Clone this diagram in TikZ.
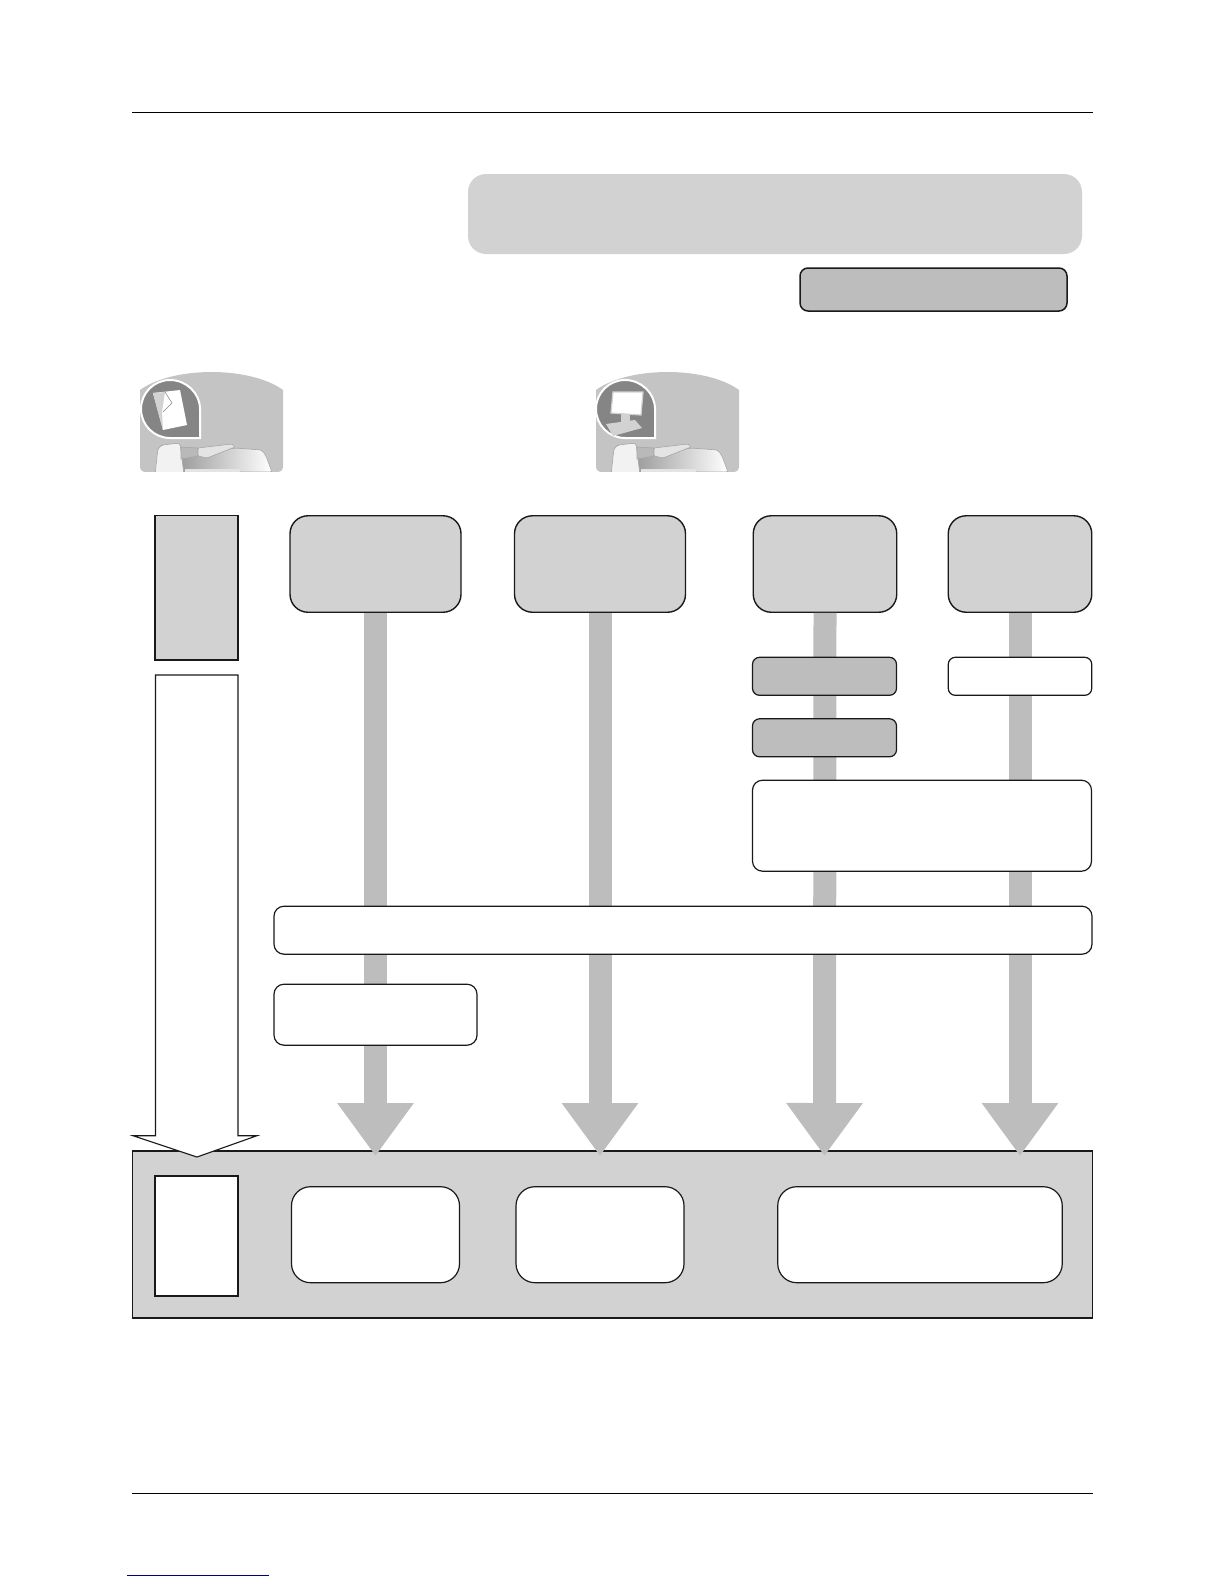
\documentclass[tikz,border=0pt]{standalone}
\usepackage{tikz}
\usetikzlibrary{arrows.meta, calc}
\definecolor{my-light}{HTML}{D2D2D2}
\definecolor{my-mid}{HTML}{BDBDBD}
\definecolor{my-dark}{HTML}{858585}
\tikzset{
    my-box/.style={
        draw=black!90, line width=1.2pt, shape=rectangle, inner sep=0pt
    },
    my-head/.style={
        my-box, fill=my-light, rounded corners=18pt
    },
    my-step/.style={
        my-box, fill=my-mid, rounded corners=7pt
    },
    my-note/.style={
        my-box, fill=white, rounded corners=7pt
    },
    my-result/.style={
        my-box, fill=white, rounded corners=19pt
    },
    my-flow/.style={
        draw=my-mid, line width=23pt, -{Triangle[width=73pt, length=53pt]}
    },
    my-rule/.style={
        line width=1.2pt, black
    },
    my-copier/.pic={
        % BODY
        \fill[my-mid!90!white] (0,18) .. controls (33,-6) and (110,-6) .. (143,18)
            -- (143,94) .. controls (143,98) and (141,100) .. (137,100)
            -- (6,100) .. controls (2,100) and (0,98) .. (0,94) -- cycle;
        % MACHINE
        \shade[left color=my-dark!80!white, right color=white, draw=gray!70, line width=.6pt, rounded corners=2pt] (41,86) -- (95,76) -- (122,78) -- (126,84) -- (132,100) -- (41,100) -- cycle;
        \filldraw[draw=gray!70, fill=white!90!gray, line width=.6pt, rounded corners=3pt] (15,103) -- (18,76) -- (22,73) -- (40,71) -- (44,103) -- cycle;
        \filldraw[draw=gray!70, fill=gray!55, line width=.6pt] (41,75) -- (58,76) -- (58,84) -- (41,87) -- cycle;
        \filldraw[draw=gray!70, fill=my-light!60!white, line width=.6pt, rounded corners=1pt] (58,76) -- (92,72) -- (95,75) -- (67,86) -- (58,84) -- cycle;
        \fill[my-light!60!white] (45,97) rectangle (100,100);
        % WHITE PAGE BELOW THE ICON
        \fill[white] (-1,100) rectangle (144,104);
    },
}

\begin{document}
\begin{tikzpicture}[x=1pt, y=-1pt]

        \useasboundingbox (0,0) rectangle (1224,1584);

        % PAGE RULES AND LINK
        \coordinate (TOPL) at (132,112.5);
        \coordinate (TOPR) at (1093,112.5);
        \coordinate (BOTL) at (132,1493.5);
        \coordinate (BOTR) at (1093,1493.5);
        \coordinate (LINKL) at (127,1575);
        \coordinate (LINKR) at (269,1575);
        \draw[my-rule] (TOPL) -- (TOPR);
        \draw[my-rule] (BOTL) -- (BOTR);
        \draw[line width=1pt, blue!50!black] (LINKL) -- (LINKR);

        % BANNER
        \node[shape=rectangle, fill=my-light, rounded corners=18pt, inner sep=0pt,
              minimum width=614pt, minimum height=80pt] (BANNER) at (775,214) {};
        \node[my-step, rounded corners=8pt, line width=1.5pt, minimum width=267pt, minimum height=43pt] (TAG) at (933.5,289.5) {};

        % ICONS
        \begin{scope}[shift={(140,372)}]
            \pic {my-copier};
            \filldraw[draw=white, line width=2pt, fill=my-dark] (60,66) -- (30,66)
                .. controls (14,66) and (1,53) .. (1,37) .. controls (1,21) and (14,8) .. (30,8)
                .. controls (46,8) and (60,21) .. (60,37) -- cycle;
            \fill[white] (13,21) -- (40,18) -- (47,53) -- (23,58) -- cycle;
            \fill[my-light] (13,21) -- (25,20) -- (22,40) -- (23,58) -- cycle;
            \draw[my-dark, line width=.5pt] (25,20) -- (32,31) -- (23,40);
        \end{scope}
        \begin{scope}[shift={(596,372)}]
            \pic {my-copier};
            \filldraw[draw=white, line width=2pt, fill=my-dark] (59,66) -- (29,66)
                .. controls (13,66) and (0,53) .. (0,37) .. controls (0,21) and (13,8) .. (29,8)
                .. controls (45,8) and (59,21) .. (59,37) -- cycle;
            \fill[my-light] (25,42) rectangle (34,50);
            \filldraw[draw=my-light, fill=white, line width=1.2pt] (17,20) -- (47,20) -- (45,43) -- (15,41) -- cycle;
            \fill[my-light] (10,52) -- (39,48) -- (46,56) -- (17,64) -- cycle;
        \end{scope}

        % BOTTOM PANEL
        \node[draw=black!90, line width=1.2pt, fill=my-light, shape=rectangle, inner sep=0pt,
              minimum width=960pt, minimum height=167pt] (PANEL) at (612.5,1234.5) {};

        % HEADER BOXES
        \node[my-box, line width=1.7pt, fill=my-light, minimum width=83pt, minimum height=144.5pt] (SIDE) at (196.5,587.8) {};
        \node[my-head, line width=1.4pt, minimum width=171pt, minimum height=96.5pt] (HEADA) at (375.5,564) {};
        \node[my-head, line width=1.4pt, minimum width=171pt, minimum height=96.5pt] (HEADB) at (600,564) {};
        \node[my-head, line width=1.4pt, minimum width=143.5pt, minimum height=96.5pt] (HEADC) at (825,564) {};
        \node[my-head, line width=1.4pt, minimum width=143.5pt, minimum height=96.5pt] (HEADD) at (1020,564) {};

        % FLOW ARROWS
        \coordinate (FLOWA) at (375.5,1156);
        \coordinate (FLOWB) at (600,1156);
        \coordinate (FLOWC) at (824.5,1156);
        \coordinate (FLOWD) at (1020,1156);
        \draw[my-flow] (HEADA.south) -- (FLOWA);
        \draw[my-flow] (HEADB.south) -- (FLOWB);
        \draw[my-flow] (HEADC.south) -- (FLOWC);
        \draw[my-flow] (HEADD.south) -- (FLOWD);

        % BOXES ON THE ARROWS
        \node[my-step, minimum width=144pt, minimum height=38pt] (STEPC1) at (824.5,676.3) {};
        \node[my-step, minimum width=144pt, minimum height=38pt] (STEPC2) at (824.5,737.8) {};
        \node[my-note, minimum width=143.5pt, minimum height=38pt] (STEPD1) at (1020,676.3) {};
        \node[my-note, rounded corners=10pt, minimum width=339pt, minimum height=91pt] (WIDE) at (922,825.7) {};
        \node[my-note, rounded corners=10pt, minimum width=818pt, minimum height=48pt] (LONG) at (683,930.2) {};
        \node[my-note, rounded corners=10pt, minimum width=203pt, minimum height=61pt] (SHORT) at (375.5,1014.7) {};

        % WHITE ARROW
        \filldraw[draw=black!90, line width=1.1pt, fill=white] (155.5,675) -- (238,675) -- (238,1135.7)
            -- (257,1135.7) -- (197,1157) -- (133,1135.7) -- (155.5,1135.7) -- cycle;

        % RESULT BOXES
        \node[my-box, fill=white, minimum width=83pt, minimum height=120pt] (OUT) at (196.5,1236) {};
        \node[my-result, minimum width=168pt, minimum height=96pt] (RESA) at (375.5,1234.7) {};
        \node[my-result, minimum width=168pt, minimum height=96pt] (RESB) at (600,1234.7) {};
        \node[my-result, minimum width=284.5pt, minimum height=96pt] (RESC) at (920,1234.7) {};

\end{tikzpicture}
\end{document}
